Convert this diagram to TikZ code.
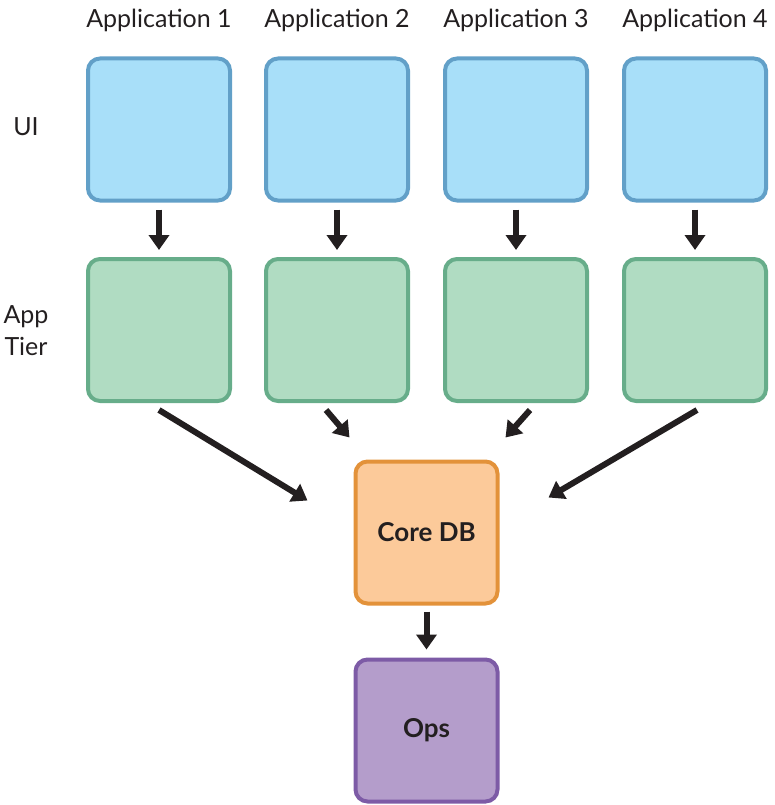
\documentclass[tikz,border=0pt]{standalone}
\usepackage{fontspec}
\setmainfont{Lato}
\usepackage{tikz}
\usetikzlibrary{arrows.meta}
\definecolor{uifill}{HTML}{A8DFF9}
\definecolor{uiline}{HTML}{62A0C8}
\definecolor{appfill}{HTML}{B0DCC2}
\definecolor{appline}{HTML}{67AD8A}
\definecolor{corefill}{HTML}{FCCA9A}
\definecolor{coreline}{HTML}{E3923A}
\definecolor{opsfill}{HTML}{B49DCB}
\definecolor{opsline}{HTML}{7D5BA6}
\definecolor{arrowcol}{HTML}{231F20}
\tikzset{
    tile/.style={rounded corners=12pt,line width=4pt,minimum width=142pt,minimum height=142pt,inner sep=0pt,
        font=\fontsize{26}{30}\selectfont\bfseries,text=arrowcol},
    uitile/.style={tile,draw=uiline,fill=uifill},
    apptile/.style={tile,draw=appline,fill=appfill},
    coretile/.style={tile,draw=coreline,fill=corefill},
    opstile/.style={tile,draw=opsline,fill=opsfill},
    arrow/.style={line width=6pt,arrowcol,-{Triangle[width=20pt,length=15pt]}},
    heading/.style={font=\fontsize{25}{30}\selectfont,text=arrowcol},
    rowlabel/.style={font=\fontsize{25}{32}\selectfont,text=arrowcol,align=center}
}

\begin{document}
\begin{tikzpicture}[x=1pt,y=-1pt]
        \useasboundingbox (0,0) rectangle (774,805);
        \foreach \i/\x in {1/159,2/337,3/516,4/695}{
            \node[heading] (title\i) at (\x,20) {Application \i};
            \node[uitile] (ui\i) at (\x,129.5) {};
            \node[apptile] (app\i) at (\x,330) {};
            \draw[arrow] ([yshift=-7pt]ui\i.south) -- ([yshift=7pt]app\i.north);
        }
        \node[rowlabel] (uilabel) at (26,127) {UI};
        \node[rowlabel] (tierlabel) at (26,331) {App\\Tier};
        \node[coretile] (core) at (426.5,532.5) {Core DB};
        \node[opstile] (ops) at (426.5,730.5) {Ops};
        \draw[arrow] ([yshift=-7pt]app1.south) -- ([xshift=-46pt,yshift=32pt]core.west);
        \draw[arrow] ([xshift=-11pt,yshift=-7pt]app2.south) -- ([xshift=-4pt,yshift=22pt]core.north west);
        \draw[arrow] ([xshift=14pt,yshift=-7pt]app3.south) -- ([xshift=6pt,yshift=22pt]core.north east);
        \draw[arrow] ([xshift=2pt,yshift=-7pt]app4.south) -- ([xshift=49pt,yshift=35pt]core.east);
        \draw[arrow] ([yshift=-6pt]core.south) -- ([yshift=8pt]ops.north);
    \end{tikzpicture}
\end{document}
